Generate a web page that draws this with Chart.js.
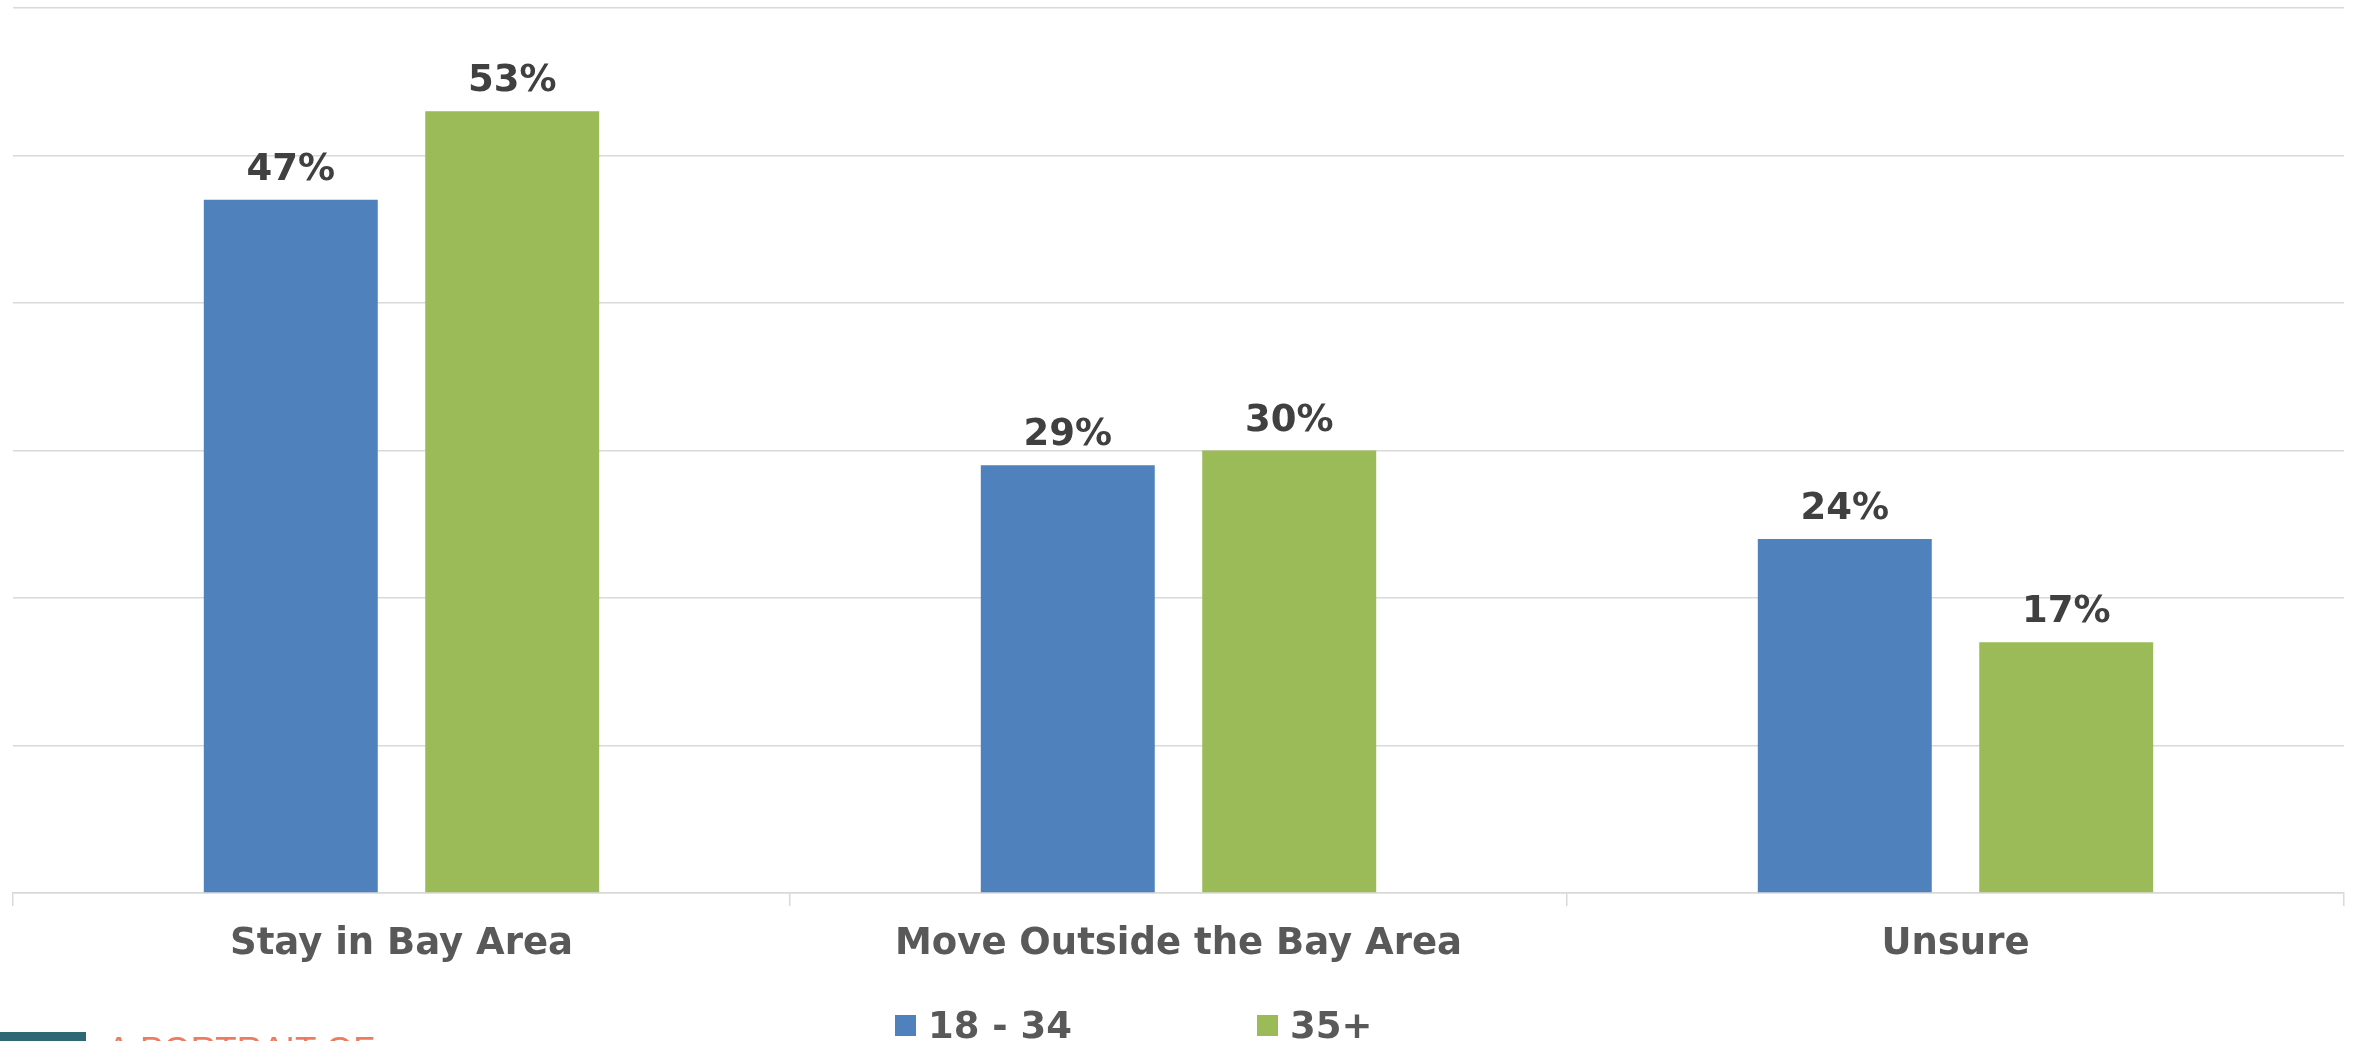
<!DOCTYPE html>
<html><head><meta charset="utf-8">
<script src="https://cdn.jsdelivr.net/npm/chart.js@4.4.0/dist/chart.umd.min.js"></script>
<style>html,body{margin:0;padding:0;background:#fff;overflow:hidden}#wrap{width:2354px;height:1041px;position:relative}</style>
</head><body><div id="wrap"><canvas id="c" width="2354" height="1041"></canvas></div>
<script>
const categories = ["Stay in Bay Area", "Move Outside the Bay Area", "Unsure"];
const seriesNames = ["18 - 34", "35+"];
const youngValues = [47, 29, 24];
const olderValues = [53, 30, 17];
const yTicks = [0, 10, 20, 30, 40, 50, 60];
const seriesColors = ["#4F81BD", "#9BBB59"];
const brandText = "A PORTRAIT OF";

const FONT = "'DejaVu Sans', Verdana, sans-serif";

const barLabels = {
  id: 'barLabels',
  afterDatasetsDraw(chart) {
    const ctx = chart.ctx;
    ctx.save();
    ctx.font = "bold 37px " + FONT;
    ctx.fillStyle = "#404040";
    ctx.textAlign = "center";
    ctx.textBaseline = "alphabetic";
    chart.data.datasets.forEach((ds, di) => {
      const meta = chart.getDatasetMeta(di);
      meta.data.forEach((el, i) => {
        ctx.fillText(ds.data[i] + "%", el.x, el.y - 20);
      });
    });
    ctx.restore();
  }
};

const customLegend = {
  id: 'customLegend',
  afterDraw(chart, args, opts) {
    const ctx = chart.ctx;
    ctx.save();
    ctx.font = "bold 37px " + FONT;
    ctx.textBaseline = "alphabetic";
    ctx.textAlign = "left";
    chart.data.datasets.forEach((ds, di) => {
      const x = opts.starts[di];
      ctx.fillStyle = ds.backgroundColor;
      ctx.fillRect(x, opts.boxTop, opts.box, opts.box);
      ctx.fillStyle = "#595959";
      ctx.fillText(ds.label, x + opts.box + opts.gap, opts.baseline);
    });
    // branding at bottom-left
    ctx.fillStyle = "#2E6776";
    ctx.fillRect(0, 1032, 86, 20);
    ctx.fillStyle = "#EE7B60";
    ctx.font = "35px 'Liberation Sans', Arial, sans-serif";
    ctx.fillText(brandText, 107, 1061);
    ctx.restore();
  }
};

new Chart(document.getElementById('c'), {
  type: 'bar',
  data: {
    labels: categories,
    datasets: [
      { label: seriesNames[0], data: youngValues, backgroundColor: seriesColors[0], categoryPercentage: 0.570, barPercentage: 0.7856 },
      { label: seriesNames[1], data: olderValues, backgroundColor: seriesColors[1], categoryPercentage: 0.570, barPercentage: 0.7856 }
    ]
  },
  options: {
    responsive: false,
    animation: false,
    devicePixelRatio: 1,
    layout: { padding: { top: 8, right: 10, left: 0, bottom: 0 } },
    plugins: {
      legend: { display: false },
      tooltip: { enabled: false },
      customLegend: { starts: [895, 1257], box: 21, boxTop: 1015, gap: 12, baseline: 1038 }
    },
    scales: {
      x: {
        grid: { display: true, drawOnChartArea: false, drawTicks: true, tickLength: 13, color: '#D9D9D9', lineWidth: 1.5, offset: true },
        border: { display: true, color: '#D9D9D9', width: 1.5 },
        ticks: { font: { family: FONT, weight: 'bold', size: 37 }, color: '#595959', padding: 16, maxRotation: 0, autoSkip: false },
        afterFit: s => { s.height = 148; }
      },
      y: {
        min: yTicks[0], max: yTicks[yTicks.length - 1],
        ticks: { display: false, stepSize: yTicks[1] - yTicks[0] },
        grid: { color: '#D9D9D9', lineWidth: 1.5, drawTicks: false },
        border: { display: false },
        afterFit: s => { s.width = 13; }
      }
    }
  },
  plugins: [barLabels, customLegend]
});
</script></body></html>
